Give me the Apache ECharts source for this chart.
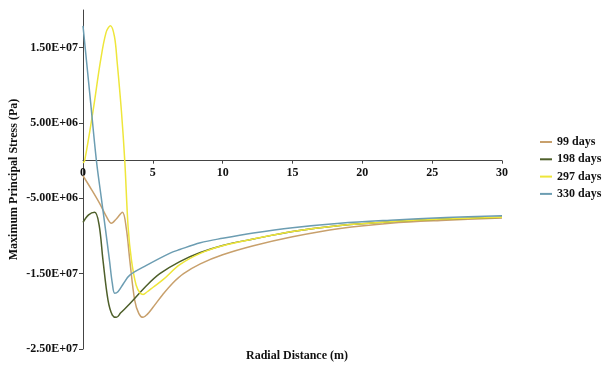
<!DOCTYPE html>
<html>
<head>
<meta charset="utf-8">
<script src="https://cdn.jsdelivr.net/npm/echarts@6/dist/echarts.min.js"></script>
<style>html,body{margin:0;padding:0;background:#fff}#c{width:602px;height:365px}</style>
</head>
<body>
<div id="c"></div>
<script>
// Data (radial distance in m, stress in Pa)
const seriesNames = ['99 days', '198 days', '297 days', '330 days'];

const x99 = [0, 0.6, 1.2, 1.7, 2.03, 2.4, 2.82, 3.1, 3.35, 3.7, 4.0, 4.3, 4.6, 5.0, 5.7, 6.4, 7.2, 8.4, 10, 12.2, 15, 18.4, 22, 26, 30];
const v99 = [-2.0e6, -3.8e6, -5.7e6, -7.5e6, -8.3e6, -7.7e6, -6.85e6, -9.0e6, -13.2e6, -18.5e6, -20.3e6, -20.8e6, -20.4e6, -19.5e6, -17.8e6, -16.3e6, -15.0e6, -13.7e6, -12.5e6, -11.3e6, -10.1e6, -9.0e6, -8.3e6, -7.9e6, -7.6e6];

const x198 = [0, 0.4, 0.84, 1.15, 1.43, 1.79, 2.1, 2.39, 2.7, 3.35, 4.54, 5.5, 6.93, 8.4, 10, 12.2, 15, 18.4, 22, 26, 30];
const v198 = [-8.2e6, -7.2e6, -6.85e6, -8.5e6, -13.2e6, -18.5e6, -20.5e6, -20.8e6, -20.2e6, -19.0e6, -16.6e6, -15.0e6, -13.4e6, -12.2e6, -11.25e6, -10.4e6, -9.4e6, -8.6e6, -8.1e6, -7.75e6, -7.5e6];

const x297 = [0, 0.12, 0.72, 1.25, 1.65, 1.96, 2.25, 2.44, 2.75, 2.99, 3.23, 3.47, 3.8, 4.1, 4.3, 4.6, 5.02, 5.73, 6.93, 8.4, 10, 12.2, 15, 18.4, 22, 26, 30];
const v297 = [-0.3e6, 0, 6.6e6, 13.2e6, 17.0e6, 17.9e6, 16.5e6, 13.2e6, 6.6e6, 0, -8.8e6, -13.2e6, -16.5e6, -17.6e6, -17.75e6, -17.4e6, -16.8e6, -15.8e6, -13.8e6, -12.3e6, -11.3e6, -10.4e6, -9.4e6, -8.6e6, -8.1e6, -7.75e6, -7.5e6];

const x330 = [0, 0.5, 0.96, 1.3, 1.6, 1.9, 2.1, 2.27, 2.5, 2.9, 3.35, 4.54, 6.2, 6.93, 8.4, 10, 12.2, 15, 18.4, 22, 26, 30];
const v330 = [17.9e6, 8.6e6, 0, -4.8e6, -9.0e6, -13.3e6, -16.3e6, -17.6e6, -17.4e6, -16.3e6, -15.2e6, -13.9e6, -12.3e6, -11.8e6, -10.9e6, -10.3e6, -9.6e6, -8.9e6, -8.3e6, -7.9e6, -7.55e6, -7.3e6];

const yTickValues = [-2.5e7, -1.5e7, -5e6, 5e6, 1.5e7];
const xAxisTitle = 'Radial Distance (m)';
const yAxisTitle = 'Maximum Principal Stress (Pa)';

const colors = ['#C8A06C', '#4E5F2A', '#EEE63A', '#6C9DB2'];
const FONT = '"Liberation Serif", "Times New Roman", serif';

function pairs(xs, vs) { return xs.map((x, i) => [x, vs[i]]); }
function sci(v) {
  if (v === 0) return '0.00E+00';
  const s = v.toExponential(2).toUpperCase();
  const m = s.match(/^(-?[\d.]+)E([+-])(\d+)$/);
  return m[1] + 'E' + m[2] + (m[3].length < 2 ? '0' + m[3] : m[3]);
}

const allX = [x99, x198, x297, x330];
const allV = [v99, v198, v297, v330];

const GRID_TOP = 10, GRID_BOTTOM = 16, H = 365;
const yMin = -2.5e7, yMax = 2e7;
const plotH = H - GRID_TOP - GRID_BOTTOM;
const zeroOffset = -plotH * (0 - yMin) / (yMax - yMin);

const chart = echarts.init(document.getElementById('c'), null, { renderer: 'canvas' });
chart.setOption({
  backgroundColor: '#fff',
  animation: false,
  color: colors,
  grid: { left: 83, right: 100, top: GRID_TOP, bottom: GRID_BOTTOM, containLabel: false, outerBoundsMode: 'none' },
  legend: {
    orient: 'vertical',
    left: 540,
    top: 135,
    padding: 0,
    itemWidth: 12,
    itemHeight: 2,
    itemGap: 3.3,
    icon: 'rect',
    textStyle: { fontFamily: FONT, fontWeight: 'bold', fontSize: 12, color: '#111', lineHeight: 14 },
    data: seriesNames
  },
  xAxis: {
    type: 'value',
    min: 0, max: 30, interval: 5,
    offset: zeroOffset,
    axisLine: { onZero: false, lineStyle: { color: '#444', width: 1 } },
    axisTick: { show: true, length: 3, lineStyle: { color: '#444' } },
    axisLabel: { fontFamily: FONT, fontWeight: 'bold', fontSize: 12, color: '#111', margin: 6 },
    splitLine: { show: false }
  },
  yAxis: {
    type: 'value',
    min: yMin, max: yMax,
    interval: 1e7,
    name: yAxisTitle,
    nameLocation: 'middle',
    nameGap: 63,
    nameMoveOverlap: false,
    nameTextStyle: { fontFamily: FONT, fontWeight: 'bold', fontSize: 12, color: '#111' },
    axisLine: { show: true, lineStyle: { color: '#444', width: 1 } },
    axisTick: { show: true, length: 4, customValues: yTickValues, lineStyle: { color: '#444' } },
    axisLabel: { fontFamily: FONT, fontWeight: 'bold', fontSize: 12, color: '#111', margin: 5, customValues: yTickValues, formatter: sci },
    splitLine: { show: false }
  },
  graphic: [{
    type: 'text',
    left: 246, top: 350,
    style: { text: xAxisTitle, font: 'bold 12px ' + FONT, fill: '#111' }
  }],
  series: seriesNames.map((n, i) => ({
    name: n,
    type: 'line',
    data: pairs(allX[i], allV[i]),
    smooth: 0.35,
    showSymbol: false,
    symbol: 'none',
    lineStyle: { width: 1.5, color: colors[i] },
    itemStyle: { color: colors[i] }
  }))
});
</script>
</body>
</html>
